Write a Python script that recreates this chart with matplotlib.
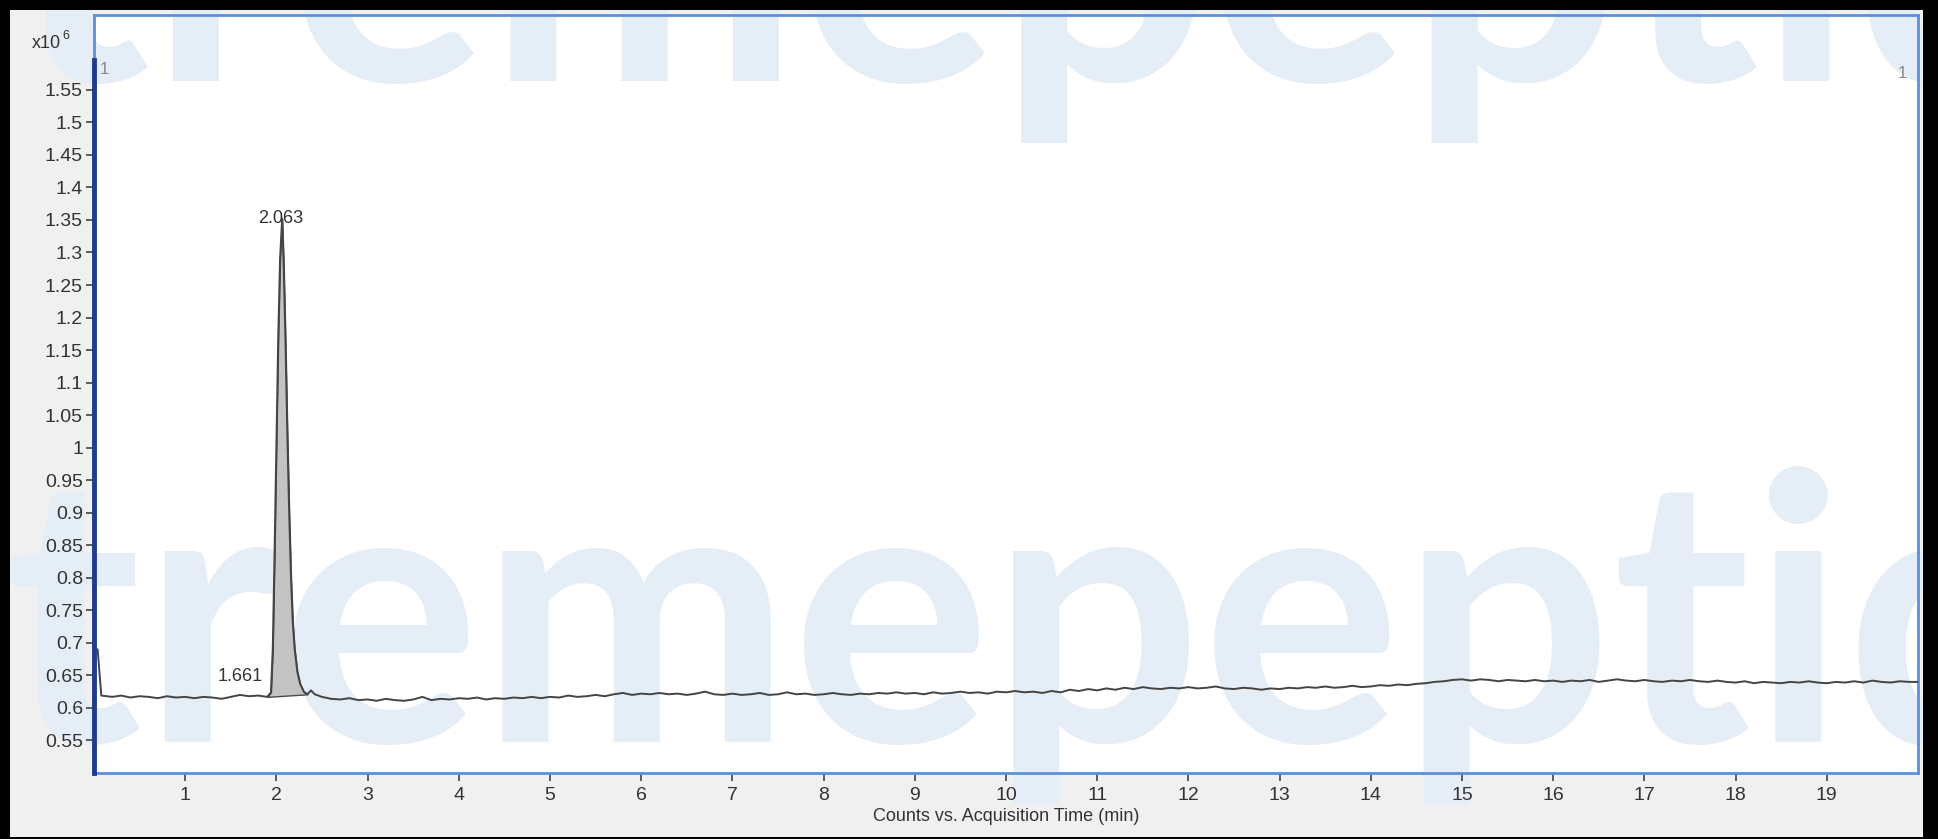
import matplotlib
matplotlib.use("Agg")
import matplotlib.pyplot as plt
from matplotlib.patches import Rectangle
import numpy as np

# chromatogram trace, counts in units of 1e6
time_min = [
    0.0, 0.04, 0.08, 0.2, 0.3, 0.4, 0.5, 0.6, 0.7, 0.8, 0.9,
    1.0, 1.1, 1.2, 1.3, 1.4, 1.5, 1.6, 1.7, 1.8,
    1.90, 1.94, 1.96, 1.98, 2.00, 2.02, 2.04, 2.063, 2.08, 2.10,
    2.12, 2.14, 2.16, 2.18, 2.20, 2.23, 2.26, 2.30, 2.34, 2.38, 2.42,
    2.5, 2.6, 2.7, 2.8, 2.9, 3.0, 3.1, 3.2, 3.3, 3.4, 3.5, 3.6, 3.7, 3.8, 3.9,
    4.0, 4.1, 4.2, 4.3, 4.4, 4.5, 4.6, 4.7, 4.8, 4.9,
    5.0, 5.1, 5.2, 5.3, 5.4, 5.5, 5.6, 5.7, 5.8, 5.9,
    6.0, 6.1, 6.2, 6.3, 6.4, 6.5, 6.6, 6.7, 6.8, 6.9,
    7.0, 7.1, 7.2, 7.3, 7.4, 7.5, 7.6, 7.7, 7.8, 7.9,
    8.0, 8.1, 8.2, 8.3, 8.4, 8.5, 8.6, 8.7, 8.8, 8.9,
    9.0, 9.1, 9.2, 9.3, 9.4, 9.5, 9.6, 9.7, 9.8, 9.9,
    10.0, 10.1, 10.2, 10.3, 10.4, 10.5, 10.6, 10.7, 10.8, 10.9,
    11.0, 11.1, 11.2, 11.3, 11.4, 11.5, 11.6, 11.7, 11.8, 11.9,
    12.0, 12.1, 12.2, 12.3, 12.4, 12.5, 12.6, 12.7, 12.8, 12.9,
    13.0, 13.1, 13.2, 13.3, 13.4, 13.5, 13.6, 13.7, 13.8, 13.9,
    14.0, 14.1, 14.2, 14.3, 14.4, 14.5, 14.6, 14.7, 14.8, 14.9,
    15.0, 15.1, 15.2, 15.3, 15.4, 15.5, 15.6, 15.7, 15.8, 15.9,
    16.0, 16.1, 16.2, 16.3, 16.4, 16.5, 16.6, 16.7, 16.8, 16.9,
    17.0, 17.1, 17.2, 17.3, 17.4, 17.5, 17.6, 17.7, 17.8, 17.9,
    18.0, 18.1, 18.2, 18.3, 18.4, 18.5, 18.6, 18.7, 18.8, 18.9,
    19.0, 19.1, 19.2, 19.3, 19.4, 19.5, 19.6, 19.7, 19.8, 19.9, 20.0,
]
counts = [
    0.690, 0.690, 0.619, 0.617, 0.619, 0.616, 0.618, 0.617, 0.615, 0.618, 0.616,
    0.617, 0.615, 0.617, 0.616, 0.614, 0.617, 0.620, 0.618, 0.619,
    0.617, 0.624, 0.690, 0.840, 1.010, 1.170, 1.290, 1.352, 1.280, 1.160,
    1.020, 0.900, 0.800, 0.730, 0.690, 0.655, 0.637, 0.625, 0.621, 0.627, 0.621,
    0.617, 0.614, 0.613, 0.615, 0.612, 0.613, 0.611, 0.614, 0.612, 0.611, 0.613, 0.617, 0.612, 0.614, 0.613,
    0.615, 0.614, 0.616, 0.613, 0.615, 0.614, 0.616, 0.615, 0.617, 0.615,
    0.617, 0.616, 0.619, 0.617, 0.618, 0.620, 0.618, 0.621, 0.623, 0.620,
    0.622, 0.621, 0.623, 0.621, 0.622, 0.620, 0.622, 0.625, 0.621, 0.620,
    0.622, 0.620, 0.621, 0.623, 0.620, 0.621, 0.624, 0.621, 0.622, 0.620,
    0.621, 0.623, 0.621, 0.620, 0.622, 0.621, 0.623, 0.622, 0.624, 0.622,
    0.623, 0.621, 0.624, 0.622, 0.623, 0.625, 0.623, 0.624, 0.622, 0.625,
    0.624, 0.626, 0.624, 0.625, 0.623, 0.626, 0.624, 0.628, 0.626, 0.629,
    0.627, 0.630, 0.628, 0.631, 0.629, 0.632, 0.630, 0.629, 0.631, 0.630,
    0.632, 0.630, 0.631, 0.633, 0.630, 0.629, 0.631, 0.630, 0.628, 0.630,
    0.629, 0.631, 0.630, 0.632, 0.631, 0.633, 0.631, 0.632, 0.634, 0.632,
    0.633, 0.635, 0.634, 0.636, 0.635, 0.637, 0.638, 0.640, 0.641, 0.643,
    0.644, 0.642, 0.644, 0.643, 0.641, 0.643, 0.642, 0.641, 0.643, 0.641,
    0.642, 0.640, 0.642, 0.641, 0.643, 0.640, 0.642, 0.644, 0.642, 0.641,
    0.643, 0.641, 0.640, 0.642, 0.641, 0.643, 0.641, 0.640, 0.642, 0.640,
    0.639, 0.641, 0.638, 0.640, 0.639, 0.638, 0.640, 0.639, 0.641, 0.639,
    0.638, 0.640, 0.639, 0.641, 0.639, 0.642, 0.640, 0.639, 0.641, 0.640, 0.640,
]

# integrated peak
peak_rt = 2.063
peak_start = 1.90
peak_end = 2.34
minor_label = "1.661"
minor_label_pos = (1.60, 0.648)

x_ticks = list(range(1, 20))
y_ticks = [0.55, 0.6, 0.65, 0.7, 0.75, 0.8, 0.85, 0.9, 0.95, 1.0, 1.05,
           1.1, 1.15, 1.2, 1.25, 1.3, 1.35, 1.4, 1.45, 1.5, 1.55]

W, H = 1938, 839
plt.rcParams["font.family"] = ["Liberation Sans", "DejaVu Sans"]

fig = plt.figure(figsize=(W / 100, H / 100), dpi=100)
fig.patch.set_facecolor("#f0f0f0")


def fig_rect(x, y, w, h, color, z):
    # rectangle in pixel units, origin bottom-left
    fig.patches.append(Rectangle((x / W, y / H), w / W, h / H, transform=fig.transFigure,
                                 facecolor=color, edgecolor="none", zorder=z))


ax_l, ax_b, ax_w, ax_h = 94, 66, 1824, 758
fig_rect(ax_l, ax_b, ax_w, ax_h, "white", 0.2)

# watermark
for dx, base in [(0, 97), (8, 758)]:
    fig.text((-190 + dx) / W, base / H, "xtremepeptides", fontsize=268, family="Lato",
             weight="bold", color="#e5edf6", ha="left", va="baseline", zorder=0.5)

# black frame over the watermark
fig_rect(0, 0, 10, H, "black", 0.9)
fig_rect(1923, 0, 15, H, "black", 0.9)
fig_rect(0, 829, W, 10, "black", 0.9)
fig_rect(0, 0, W, 2, "black", 0.9)

ax = fig.add_axes([ax_l / W, ax_b / H, ax_w / W, ax_h / H])
ax.set_facecolor("none")
ax.set_zorder(2)

t = np.array(time_min)
y = np.array(counts)
ax.plot(t, y, color="#444444", lw=1.4, zorder=4)

m = (t >= peak_start) & (t <= peak_end)
base_y = np.interp(t[m], [peak_start, peak_end], [y[m][0], y[m][-1]])
ax.fill_between(t[m], base_y, y[m], facecolor="#c3c3c3", edgecolor="#4a4a4a", lw=1.0, zorder=3)

ax.text(peak_rt - 0.02, 1.352, "%.3f" % peak_rt, ha="center", va="center",
        fontsize=13, color="#333333", zorder=5)
ax.text(minor_label_pos[0], minor_label_pos[1], minor_label, ha="center", va="center",
        fontsize=13, color="#333333", zorder=5)

ax.set_xlim(0, 20)
ax.set_ylim(0.5, 1.665)
ax.set_xticks(x_ticks)
ax.set_xticklabels([str(v) for v in x_ticks])
ax.set_yticks(y_ticks)
ax.set_yticklabels(["%g" % v for v in y_ticks])
ax.tick_params(direction="out", length=6, width=1.2, color="#444444",
               labelsize=14, labelcolor="#333333", pad=2)
ax.tick_params(axis="x", pad=4)
ax.set_xlabel("Counts vs. Acquisition Time (min)", fontsize=13, color="#333333", labelpad=3)

for s in ax.spines.values():
    s.set_color("#5b8fdc")
    s.set_linewidth(2)
ax.axvline(0, ymin=0, ymax=(1.596 - 0.5) / (1.665 - 0.5), color="#1e3c8c", lw=3.5,
           clip_on=False, zorder=6)

fig.text(32 / W, 1 - 43 / H, "x10", fontsize=13, color="#333333", ha="left", va="center", zorder=3)
fig.text(62 / W, 1 - 36 / H, "6", fontsize=9, color="#333333", ha="left", va="center", zorder=3)
fig.text(100 / W, 1 - 70 / H, "1", fontsize=12, color="#888888", ha="left", va="center", zorder=3)
fig.text(1907 / W, 1 - 73 / H, "1", fontsize=12, color="#888888", ha="right", va="center", zorder=3)

fig.savefig("out.png", dpi=100, facecolor=fig.get_facecolor())
